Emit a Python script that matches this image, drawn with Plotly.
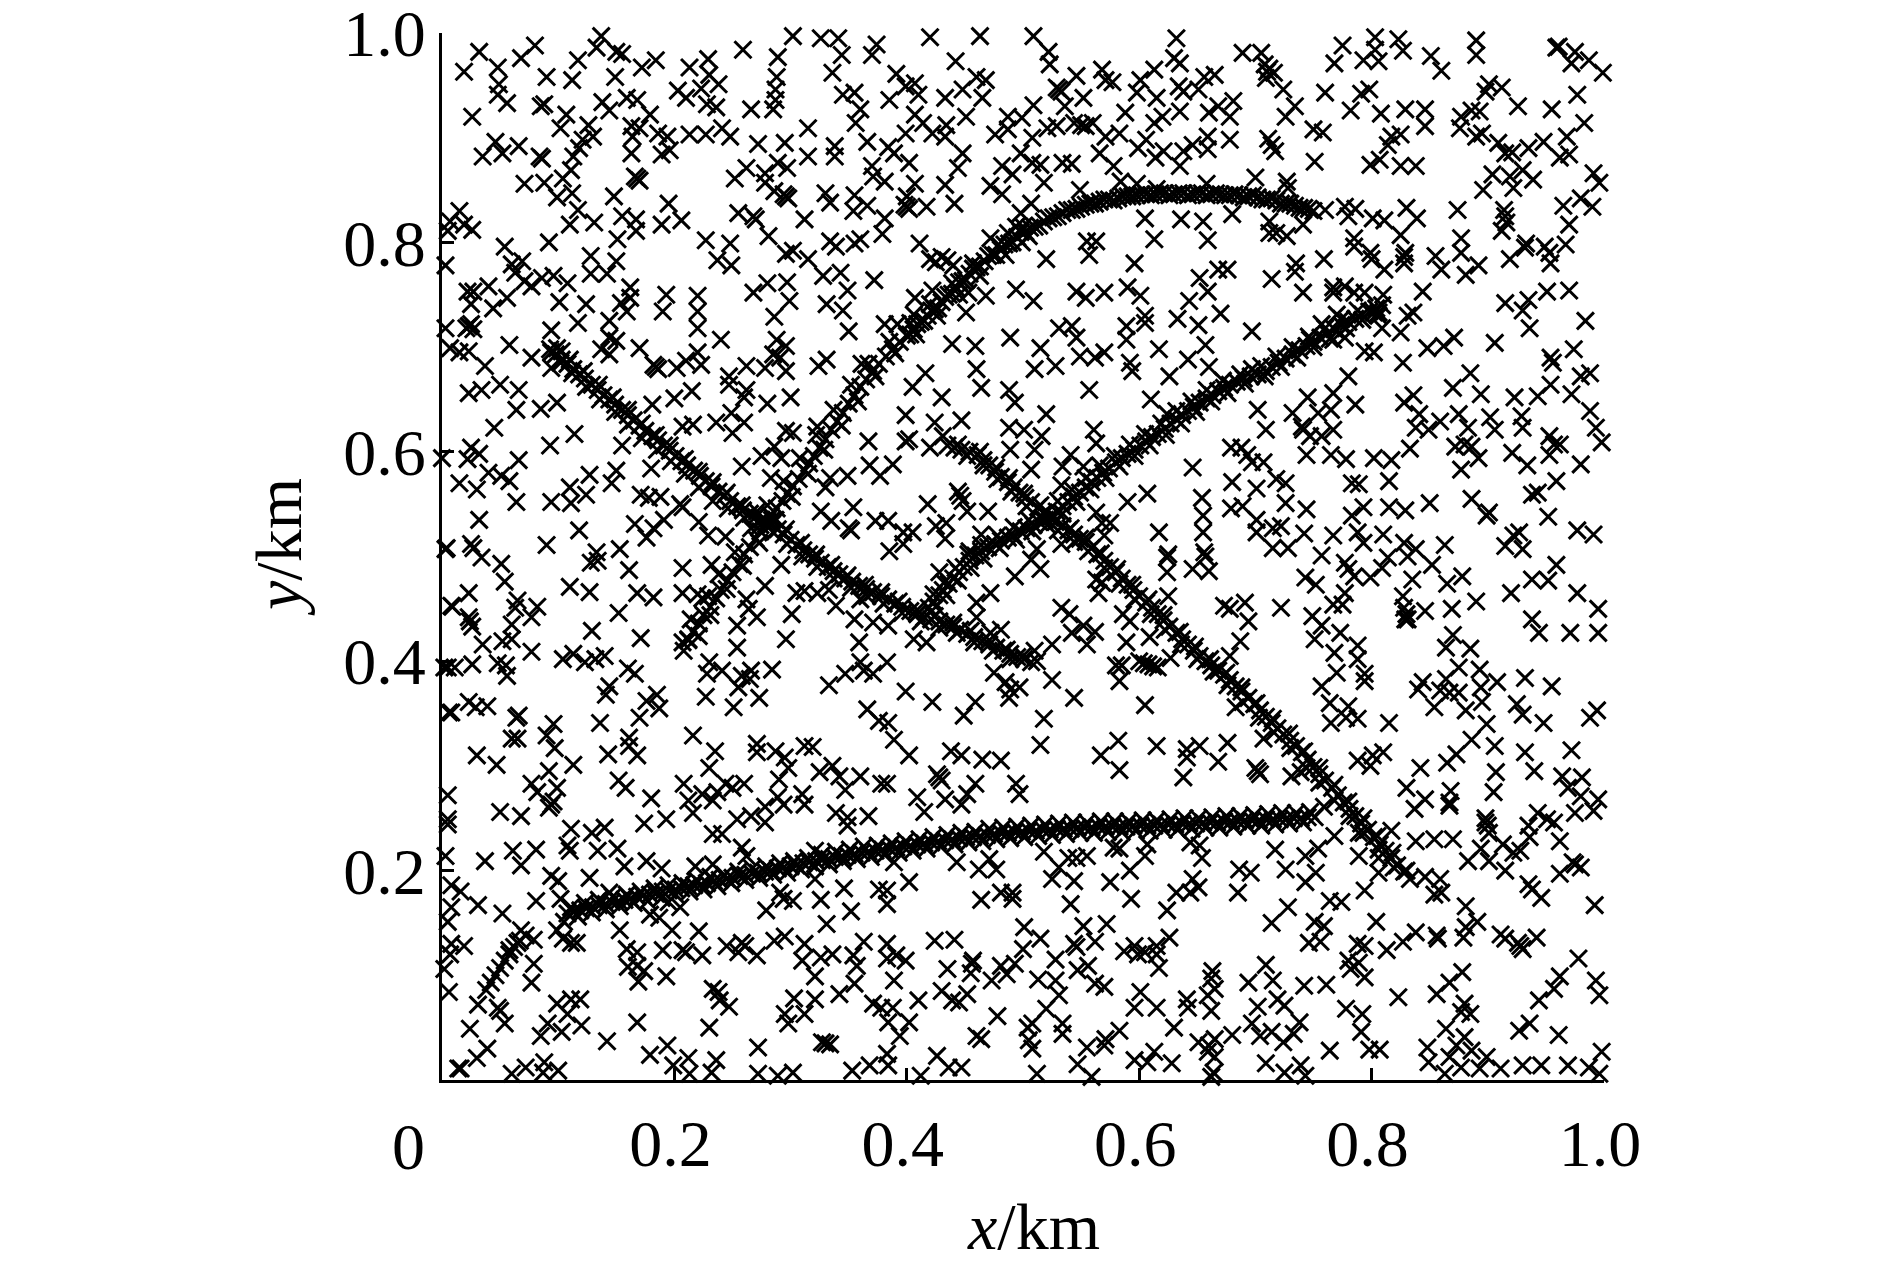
import plotly.graph_objects as go

x_tick_values = [0, 0.2, 0.4, 0.6, 0.8, 1.0]
x_tick_labels = ["", "0.2", "0.4", "0.6", "0.8", "1.0"]
y_tick_values = [0.2, 0.4, 0.6, 0.8, 1.0]
y_tick_labels = ["0.2", "0.4", "0.6", "0.8", "1.0"]

noise_upper_left = [
(.032,.982),(.080,.988),(.068,.976),(.019,.963),(.048,.967),(.049,.951),(.048,.941),(.056,.933),(.090,.958),(.112,.955),(.117,.974),(.133,.986),(.137,.997),(.150,.982),(.155,.980),(.149,.958),(.172,.967),(.184,.974),(.213,.967),(.229,.975),(.230,.960),(.238,.951),(.203,.945),(.210,.938),(.223,.947),(.228,.932),(.236,.929),(.259,.984),(.289,.977),(.288,.958),(.287,.946),(.285,.927),(.287,.936),(.302,.997),(.326,.995),(.341,.995),(.344,.979),(.336,.962),(.370,.979),(.374,.989),(.420,.996),(.463,.997),(.442,.973),
(.391,.961),(.399,.949),(.407,.952),(.410,.941),(.385,.936),(.345,.941),(.355,.943),(.360,.927),(.356,.914),(.266,.927),(.315,.909),(.272,.894),(.295,.895),(.315,.882),(.338,.892),(.338,.882),(.366,.896),(.384,.891),(.389,.885),(.402,.876),(.370,.873),(.371,.863),(.381,.858),(.407,.856),(.400,.844),(.433,.855),(.441,.837),(.417,.834),(.398,.836),(.402,.832),(.400,.834),(.444,.871),(.448,.885),(.451,.920),(.433,.938),(.448,.946),(.465,.938),(.460,.958),(.468,.955),(.407,.922),(.414,.914),(.399,.904),(.422,.904),(.433,.901),(.434,.912),(.476,.903),(.487,.920),(.487,.908),(.499,.919),(.482,.873),(.491,.865),(.498,.885),(.472,.854),(.482,.846),(.498,.828),(.472,.804),(.487,.809),(.494,.815),(.499,.800),
(.015,.830),(.007,.820),(.019,.817),(.026,.812),(.005,.811),(.003,.778),(.117,.831),(.110,.817),(.131,.819),(.155,.825),(.167,.822),(.167,.811),(.151,.803),(.189,.817),(.206,.821),(.195,.837),(.148,.844),(.099,.843),(.112,.847),(.104,.861),(.111,.869),(.088,.857),(.071,.856),(.035,.882),(.046,.896),(.052,.885),(.066,.892),(.084,.882),(.086,.880),(.026,.920),(.085,.930),(.088,.932),(.107,.922),(.102,.909),(.126,.912),(.130,.901),(.121,.898),(.118,.890),(.113,.882),(.138,.934),(.144,.926),(.159,.938),(.168,.936),(.179,.922),(.163,.911),(.170,.909),(.186,.904),(.163,.885),(.164,.901),(.189,.884),(.196,.888),(.194,.901),(.213,.903),(.227,.903),(.241,.909),(.248,.901),(.168,.861),(.166,.863),(.170,.859),
(.262,.871),(.252,.861),(.278,.866),(.278,.857),(.289,.876),(.297,.871),(.286,.849),(.296,.844),(.294,.846),(.298,.842),(.330,.847),(.334,.838),(.355,.845),(.354,.830),(.366,.835),(.381,.823),(.379,.808),(.312,.822),(.255,.828),(.270,.822),(.268,.825),(.281,.806),(.334,.801),(.339,.796),(.355,.799),(.360,.803),(.411,.799),(.227,.802),(.248,.799),(.237,.783),(.249,.778),(.296,.789),(.302,.792),(.315,.784),(.328,.768),(.343,.771),(.349,.754),(.372,.764),(.280,.761),(.297,.762),(.268,.752),(.299,.744),(.286,.729),(.331,.741),(.345,.735),(.350,.715),(.381,.722),(.392,.722),(.407,.747),(.422,.754),(.406,.731),
(.054,.796),(.092,.800),(.128,.787),(.150,.782),(.128,.770),(.142,.770),(.060,.779),(.069,.782),(.063,.771),(.077,.758),(.071,.763),(.096,.768),(.108,.761),(.086,.766),(.040,.758),(.022,.753),(.027,.753),(.025,.741),(.044,.737),(.056,.747),(.101,.743),(.124,.741),(.162,.757),(.162,.747),(.154,.742),(.159,.734),(.193,.750),(.190,.734),(.220,.749),(.220,.734),(.220,.718),(.117,.723),(.144,.725),(.094,.716),(.144,.709),(.150,.706),(.137,.698),(.144,.693),(.058,.702),(.170,.699),(.240,.707),(.288,.707),(.296,.701),(.285,.693),(.291,.690),(.220,.695),(.223,.683),(.210,.687),(.202,.680),(.184,.681),(.182,.683),(.186,.679),(.262,.682),(.331,.688),(.324,.682),(.247,.672),(.278,.680),(.296,.677),(.361,.684),(.416,.675),(.460,.679),(.439,.703),(.459,.701),(.489,.709),(.494,.755),(.451,.733),(.468,.749),(.453,.752),
(.023,.720),(.025,.722),(.021,.718),(.027,.717),(.003,.718),(.007,.699),(.015,.695),(.023,.696),(.037,.682),(.077,.690),(.094,.680),(.094,.695),(.103,.696),
(.420,.784),(.425,.781),(.430,.786),(.435,.783),(.440,.778),
]

noise_upper_right = [
(.509,.997),(.522,.982),(.523,.970),(.546,.959),(.529,.948),(.533,.944),(.531,.946),(.568,.965),(.571,.955),(.577,.953),(.536,.930),(.552,.938),(.509,.931),(.601,.955),(.598,.943),(.613,.965),(.615,.938),(.630,.976),(.635,.971),(.632,.995),(.634,.949),(.638,.944),(.635,.925),(.620,.920),(.613,.914),(.588,.924),(.656,.958),(.665,.960),(.651,.946),(.660,.924),(.668,.930),(.681,.935),(.678,.920),(.678,.898),(.659,.901),(.659,.889),(.646,.893),(.638,.887),(.635,.873),(.614,.881),(.621,.887),(.606,.898),(.599,.890),(.583,.904),(.571,.901),(.566,.885),(.578,.873),(.521,.909),(.529,.911),(.544,.914),(.550,.912),(.554,.911),(.560,.914),(.508,.900),(.508,.876),(.515,.874),(.534,.876),(.542,.875),(.518,.857),(.549,.850),(.507,.837),(.584,.858),(.598,.856),(.615,.851),(.658,.856),(.700,.862),(.727,.858),(.728,.852),
(.689,.981),(.705,.981),(.712,.966),(.708,.970),(.716,.962),(.710,.963),(.709,.957),(.724,.946),(.760,.943),(.734,.930),(.726,.920),(.750,.908),(.758,.905),(.714,.893),(.717,.887),(.711,.899),(.751,.877),(.775,.988),(.768,.971),(.793,.974),(.803,.996),(.803,.984),(.806,.973),(.823,.994),(.827,.983),(.851,.978),(.860,.964),(.890,.993),(.890,.979),(.961,.987),(.959,.986),(.975,.982),(.972,.971),(.987,.974),(.999,.962),
(.798,.946),(.791,.942),(.782,.926),(.808,.923),(.829,.927),(.846,.927),(.846,.911),(.825,.903),(.817,.901),(.814,.893),(.807,.879),(.799,.874),(.825,.873),(.838,.873),(.901,.951),(.898,.944),(.912,.948),(.893,.925),(.886,.926),(.877,.920),(.876,.909),(.890,.901),(.895,.904),(.926,.930),(.955,.927),(.977,.941),(.983,.914),(.968,.901),(.948,.896),(.909,.895),(.915,.885),(.921,.886),(.935,.890),(.962,.881),(.970,.884),(.904,.865),(.896,.850),(.919,.863),(.930,.869),(.922,.852),(.939,.860),(.991,.866),(.996,.857),(.965,.835),(.980,.842),(.990,.834),(.970,.817),(.874,.831),(.915,.825),(.914,.831),(.916,.819),(.912,.811),
(.760,.831),(.777,.834),(.786,.832),(.780,.825),(.801,.823),(.811,.821),(.830,.833),(.839,.823),(.825,.807),(.785,.804),(.785,.796),(.799,.790),(.800,.784),(.811,.774),(.829,.790),(.828,.786),(.828,.780),(.855,.787),(.860,.774),(.877,.804),(.877,.790),(.892,.778),(.881,.769),(.844,.753),(.836,.733),(.831,.730),(.825,.714),(.809,.718),(.802,.733),(.806,.730),(.848,.699),(.862,.701),(.871,.709),(.906,.704),(.827,.685),(.885,.675),(.919,.784),(.933,.799),(.932,.795),(.949,.796),(.953,.790),(.954,.780),(.967,.798),(.915,.742),(.935,.745),(.930,.735),(.951,.753),(.970,.754),(.984,.725),(.936,.718),(.974,.698),(.954,.690),(.956,.685),(.988,.675),(.980,.672),
(.520,.784),(.557,.788),(.555,.801),(.563,.801),(.596,.780),(.613,.803),(.636,.822),(.655,.820),(.659,.802),(.680,.827),(.605,.823),(.712,.820),(.712,.809),(.718,.809),(.727,.806),(.741,.817),(.735,.780),(.734,.772),(.759,.784),(.714,.765),(.741,.752),(.676,.774),(.668,.774),(.652,.766),(.659,.753),(.643,.744),(.670,.732),(.633,.727),(.651,.721),(.605,.730),(.605,.723),(.589,.720),(.589,.707),(.546,.753),(.554,.747),(.570,.752),(.590,.757),(.601,.749),(.509,.744),(.531,.718),(.542,.720),(.546,.709),(.515,.699),(.549,.691),(.562,.690),(.570,.695),(.617,.698),(.657,.702),(.642,.688),(.660,.681),(.592,.685),(.594,.677),(.528,.682),(.510,.679),(.697,.715),(.697,.679),(.626,.672),
(.767,.757),(.777,.758),(.785,.752),(.794,.752),(.810,.750),(.767,.752),(.770,.731),(.757,.722),(.767,.707),(.777,.709),(.747,.707),(.794,.696),(.802,.695),(.780,.672),
]

noise_middle_left = [
(.023,.656),(.034,.659),(.050,.664),(.066,.659),(.064,.640),(.085,.641),(.099,.647),(.045,.623),(.114,.617),(.093,.606),(.155,.606),(.025,.604),(.032,.598),(.022,.593),(.066,.592),(.040,.580),(.051,.577),(.058,.572),(.015,.570),(.030,.564),(.064,.552),(.094,.552),(.110,.566),(.111,.551),(.127,.578),(.124,.559),(.150,.582),(.146,.570),(.180,.584),(.171,.559),(.178,.556),(.188,.557),(.207,.547),(.205,.550),(.032,.535),(.118,.525),(.166,.531),(.176,.518),(.182,.527),(.191,.535),(.221,.533),(.229,.520),(.244,.519),(.004,.508),(.025,.512),(.027,.508),(.090,.511),(.034,.499),(.051,.493),(.133,.504),(.128,.494),(.134,.496),(.153,.507),(.161,.487),(.207,.489),(.232,.492),(.054,.476),(.110,.471),(.127,.466),(.023,.465),(.168,.465),(.182,.461),(.207,.465),(.220,.464),(.229,.462),(.065,.458),(.063,.451),(.082,.452),(.077,.442),(.008,.453),(.152,.446),(.024,.438),(.026,.433),(.023,.442),(.060,.435),(.129,.429),(.171,.422),(.052,.419),(.060,.421),(.035,.416),(.077,.409),(.104,.402),(.113,.407),(.123,.399),(.132,.402),(.140,.405),(.026,.397),(.011,.394),(.005,.394),(.048,.398),(.055,.396),(.056,.386),(.160,.393),(.166,.388),(.144,.376),(.141,.368),(.023,.361),(.029,.356),(.039,.357),(.006,.351),(.066,.348),(.064,.346),(.096,.340),(.136,.341),(.170,.346),(.176,.362),(.185,.368),(.187,.355),(.227,.366),(.251,.356),(.273,.365),(.255,.375),(.265,.383),(.258,.386),(.266,.391),(.284,.392),(.241,.391),(.228,.388),(.230,.399),(.207,.418),(.212,.421),(.208,.410),(.254,.413),(.254,.434),(.271,.442),(.296,.421),(.301,.445),(.262,.459),(.264,.450),(.278,.472),(.305,.465),(.312,.467),(.323,.465),(.333,.468),(.292,.492),(.339,.453),(.360,.459),(.355,.440),(.371,.437),(.384,.434),(.359,.418),(.360,.399),(.347,.388),(.363,.391),(.383,.399),(.371,.388),(.333,.377),(.399,.371),(.366,.354),(.422,.361),(.459,.361),(.449,.348),(.489,.373),(.497,.375),(.488,.365),(.485,.380),(.475,.389),(.376,.343),(.384,.341),(.406,.421),(.417,.418),(.460,.456),(.460,.442),(.481,.430),(.472,.427),
(.399,.635),(.424,.628),(.447,.630),(.367,.610),(.354,.547),(.326,.543),(.335,.534),(.350,.527),(.352,.525),(.373,.534),(.384,.534),(.418,.550),(.397,.523),(.405,.523),(.425,.529),(.434,.532),(.433,.517),(.385,.505),(.397,.512),(.452,.543),(.446,.558),(.444,.562),(.448,.553),(.470,.543),(.464,.521),(.454,.505),(.428,.485),(.493,.481),(.472,.465),(.368,.587),(.388,.588),(.377,.577),(.349,.577),(.334,.575),(.330,.566),(.399,.610),(.402,.612),(.420,.604),(.431,.615),(.489,.602),(.488,.623),(.501,.621),(.493,.647),(.488,.659),(.464,.661),(.430,.652),(.405,.662),(.181,.645),(.200,.651),(.215,.658),(.216,.626),(.207,.624),(.236,.628),(.249,.637),(.260,.628),(.250,.618),(.260,.652),(.262,.659),(.280,.646),(.300,.652),(.247,.664),(.296,.620),(.302,.618),(.323,.624),(.275,.596),(.292,.594),(.286,.605),(.258,.586),(.283,.575),
(.000,.594),(.003,.507),(.009,.452),(.002,.394),(.008,.351),
]

noise_middle_right = [
(.557,.659),(.610,.650),(.624,.636),(.520,.636),(.561,.621),(.563,.608),(.516,.615),(.510,.602),(.541,.597),(.534,.586),(.552,.586),(.507,.583),(.533,.568),(.646,.585),(.607,.560),(.590,.552),(.654,.556),(.679,.546),(.689,.548),(.655,.539),(.655,.523),(.617,.523),(.625,.502),(.624,.499),(.624,.485),(.656,.504),(.657,.500),(.646,.488),(.660,.486),(.680,.571),(.701,.565),(.718,.574),(.726,.570),(.726,.551),(.744,.545),(.679,.604),(.688,.604),(.693,.597),(.697,.590),(.707,.590),(.702,.640),(.709,.621),(.732,.637),(.745,.652),(.754,.637),(.767,.656),(.765,.640),(.767,.621),(.741,.621),(.740,.624),(.747,.615),(.757,.615),(.744,.597),(.765,.597),(.778,.593),(.786,.645),(.802,.594),(.817,.592),(.833,.603),(.828,.647),(.836,.654),(.841,.636),(.838,.623),(.849,.621),(.859,.629),(.875,.636),(.883,.623),(.872,.605),(.880,.607),(.886,.605),(.892,.594),(.877,.583),(.902,.633),(.906,.621),(.894,.655),(.870,.661),(.923,.652),(.929,.634),(.930,.623),(.943,.653),(.954,.664),(.972,.655),(.988,.639),(.993,.623),(.998,.609),(.953,.615),(.957,.607),(.962,.607),(.953,.597),(.921,.599),(.934,.587),(.980,.588),(.959,.572),(.943,.561),(.938,.559),(.886,.555),(.901,.542),(.899,.539),(.952,.538),(.977,.525),(.991,.521),(.927,.523),(.915,.510),(.922,.520),(.930,.507),(.959,.492),(.938,.478),(.952,.477),(.920,.465),(.977,.465),(.995,.450),(.938,.440),(.944,.427),(.971,.427),(.995,.427),
(.850,.551),(.815,.572),(.783,.570),(.789,.569),(.793,.547),(.783,.539),(.815,.547),(.829,.544),(.788,.523),(.793,.513),(.810,.521),(.828,.513),(.838,.507),(.863,.511),(.814,.499),(.831,.500),(.777,.494),(.780,.488),(.785,.481),(.799,.480),(.809,.489),(.852,.492),(.835,.478),(.865,.474),(.878,.481),(.767,.520),(.757,.501),(.742,.522),(.715,.527),(.722,.529),(.701,.535),(.701,.523),(.715,.508),(.728,.508),(.743,.480),(.752,.473),(.777,.465),(.767,.454),(.775,.454),(.749,.443),(.757,.434),(.751,.421),(.773,.427),(.788,.415),(.788,.402),(.768,.408),(.770,.389),(.794,.388),(.794,.381),(.757,.376),(.764,.360),(.780,.357),(.778,.346),(.788,.345),(.765,.341),(.827,.462),(.828,.451),(.830,.445),(.829,.440),(.831,.440),(.846,.448),(.869,.450),(.890,.457),(.870,.425),(.864,.413),(.885,.412),(.875,.394),(.893,.392),(.908,.380),(.894,.375),(.932,.384),(.955,.376),(.864,.383),(.844,.380),(.840,.373),(.859,.372),(.867,.370),(.875,.370),(.854,.356),(.881,.353),(.895,.361),(.925,.359),(.930,.349),(.988,.346),(.994,.353),(.948,.341),(.899,.340),(.815,.341),(.683,.356),(.687,.419),(.694,.438),(.691,.456),(.673,.453),(.678,.450),(.722,.451),(.678,.405),(.627,.403),(.625,.462),(.586,.445),(.592,.438),(.542,.427),(.533,.451),(.540,.445),(.552,.434),(.562,.428),(.555,.416),(.589,.418),(.609,.423),(.525,.416),(.510,.410),(.512,.400),(.580,.396),(.585,.396),(.583,.381),(.525,.382),(.544,.365),(.605,.358),(.518,.345),(.565,.465),(.563,.478),(.568,.475),(.515,.488),(.575,.532),(.568,.532),(.563,.542),(.570,.520),(.512,.507),(.533,.512),(.507,.497),
(.600,.400),(.604,.398),(.608,.397),(.612,.395),(.616,.394),
]

noise_lower_left = [
(.060,.326),(.065,.326),(.090,.329),(.097,.317),(.030,.310),(.047,.301),(.113,.301),(.092,.295),(.143,.311),(.161,.319),(.168,.310),(.161,.327),(.235,.314),(.216,.329),(.230,.298),(.271,.321),(.271,.313),(.287,.314),(.295,.308),(.312,.319),(.319,.318),(.298,.298),(.290,.287),(.325,.294),(.336,.300),(.342,.290),(.347,.277),(.360,.290),(.378,.283),(.383,.283),(.402,.310),(.389,.325),(.438,.314),(.447,.310),(.465,.306),(.481,.305),(.428,.289),(.426,.292),(.430,.286),(.459,.283),(.452,.273),(.433,.268),(.447,.263),(.409,.270),(.415,.256),(.494,.283),(.497,.273),(.077,.283),(.082,.275),(.099,.279),(.094,.263),(.092,.260),(.096,.266),(.050,.256),(.068,.252),(.005,.272),(.005,.249),(.005,.244),(.111,.240),(.129,.236),(.140,.241),(.174,.245),(.193,.249),(.180,.269),(.152,.286),(.158,.279),(.208,.283),(.212,.267),(.233,.267),(.216,.255),(.224,.273),(.237,.275),(.244,.283),(.250,.279),(.260,.283),(.289,.270),(.294,.263),(.310,.273),(.312,.263),(.278,.261),(.278,.246),(.254,.249),(.266,.252),(.339,.255),(.349,.251),(.349,.243),(.367,.252),(.233,.235),(.241,.235),(.258,.222),(.262,.214),(.321,.219),(.003,.214),(.037,.209),(.061,.219),(.081,.220),(.068,.205),(.108,.224),(.110,.219),(.134,.219),(.151,.221),(.157,.204),(.176,.209),(.189,.202),(.218,.204),(.233,.206),(.094,.195),(.100,.190),(.127,.193),(.144,.179),(.081,.171),(.102,.173),(.016,.180),(.008,.186),(.031,.167),(.052,.159),(.008,.165),(.005,.151),(.402,.189),(.389,.208),(.376,.182),(.383,.181),(.383,.168),(.346,.183),(.326,.172),(.321,.192),(.352,.161),(.291,.179),(.294,.173),(.302,.171),(.279,.162),(.331,.149),(.443,.208),(.462,.201),(.477,.201),(.471,.211),(.464,.172),(.481,.179),(.491,.179),(.491,.173),(.501,.146),
(.105,.151),(.099,.143),(.111,.131),(.116,.131),(.104,.135),(.068,.143),(.065,.131),(.079,.134),(.058,.124),(.079,.111),(.077,.093),(.008,.130),(.019,.128),(.007,.120),(.002,.106),(.006,.084),(.031,.072),(.048,.069),(.050,.066),(.054,.054),(.024,.049),(.039,.030),(.030,.021),(.016,.011),(.014,.011),(.060,.006),(.072,.012),(.088,.017),(.087,.007),(.100,.009),(.099,.073),(.111,.077),(.119,.077),(.108,.063),(.120,.052),(.091,.054),(.085,.042),(.103,.046),(.142,.037),(.153,.143),(.159,.125),(.168,.122),(.190,.124),(.160,.108),(.168,.109),(.174,.104),(.169,.094),(.193,.099),(.207,.124),(.210,.122),(.224,.119),(.221,.142),(.198,.143),(.187,.155),(.179,.158),(.205,.165),(.195,.170),(.168,.055),(.230,.050),(.194,.033),(.179,.024),(.212,.021),(.199,.014),(.213,.006),(.236,.019),(.232,.007),(.272,.031),(.272,.006),(.289,.004),(.302,.007),(.233,.087),(.238,.084),(.247,.070),(.239,.076),(.245,.128),(.255,.122),(.258,.131),(.261,.128),(.271,.119),(.286,.133),(.295,.137),(.312,.130),(.310,.114),(.336,.120),(.326,.117),(.354,.119),(.357,.109),(.363,.132),(.383,.130),(.383,.116),(.399,.114),(.391,.119),(.389,.095),(.424,.133),(.441,.134),(.457,.114),(.456,.111),(.435,.106),(.455,.102),(.473,.095),(.481,.109),(.493,.111),(.486,.101),(.500,.125),(.321,.099),(.342,.082),(.355,.092),(.430,.085),(.439,.076),(.445,.074),(.452,.082),(.410,.076),(.371,.073),(.378,.069),(.388,.069),(.384,.055),(.402,.055),(.394,.042),(.303,.078),(.321,.077),(.295,.063),(.312,.063),(.298,.054),(.327,.036),(.330,.035),(.334,.034),(.383,.025),(.368,.014),(.384,.014),(.353,.009),(.412,.004),(.426,.023),(.436,.012),(.447,.012),(.460,.042),(.464,.039),(.478,.061),(.504,.050),(.505,.038),
]

noise_lower_right = [
(.515,.320),(.582,.324),(.615,.319),(.567,.310),(.583,.296),(.641,.316),(.652,.319),(.641,.308),(.638,.289),(.668,.304),(.676,.322),(.707,.326),(.702,.295),(.700,.298),(.704,.292),(.731,.290),(.739,.294),(.788,.305),(.799,.300),(.810,.313),(.801,.310),(.842,.298),(.865,.303),(.873,.311),(.886,.325),(.906,.319),(.932,.313),(.972,.315),(.907,.294),(.905,.275),(.830,.279),(.846,.268),(.837,.259),(.868,.276),(.867,.262),(.867,.265),(.940,.295),(.964,.290),(.969,.279),(.981,.289),(.980,.271),(.995,.268),(.991,.257),(.975,.255),(.898,.246),(.898,.250),(.900,.243),(.901,.236),(.943,.255),(.935,.243),(.936,.232),(.957,.246),(.951,.249),(.962,.228),(.854,.230),(.870,.230),(.838,.228),(.883,.209),(.894,.221),(.901,.209),(.913,.225),(.922,.217),(.928,.219),(.915,.200),(.975,.206),(.973,.208),(.980,.203),(.962,.197),(.935,.187),(.938,.182),(.946,.174),(.992,.167),(.881,.166),(.859,.192),(.846,.194),(.860,.179),(.854,.177),(.891,.151),(.881,.146),(.879,.136),(.911,.139),(.915,.135),(.928,.128),(.930,.125),(.926,.131),(.942,.136),(.856,.138),(.857,.135),(.838,.141),(.827,.132),(.813,.124),(.804,.151),(.788,.130),(.794,.128),(.780,.114),(.789,.112),(.782,.106),(.794,.098),(.978,.116),(.878,.103),(.867,.093),(.856,.082),(.823,.079),(.962,.099),(.957,.087),(.944,.076),(.993,.095),(.996,.081),(.880,.073),(.877,.065),(.885,.063),(.864,.049),(.880,.041),(.873,.033),(.848,.031),(.849,.017),(.867,.022),(.877,.012),(.886,.028),(.899,.022),(.893,.011),(.911,.011),(.930,.014),(.946,.014),(.969,.014),(.987,.012),(.998,.027),(.996,.006),(.863,.006),(.927,.047),(.936,.054),(.961,.043),(.778,.068),(.792,.063),(.791,.046),(.798,.029),(.807,.029),(.764,.028),
(.794,.181),(.764,.171),(.774,.170),(.728,.165),(.714,.150),(.751,.151),(.759,.147),(.746,.131),(.756,.132),(.709,.110),(.715,.095),(.694,.093),(.742,.090),(.761,.091),(.719,.077),(.725,.071),(.702,.070),(.697,.054),(.738,.055),(.704,.042),(.714,.046),(.733,.044),(.724,.036),(.709,.016),(.725,.007),(.739,.014),(.743,.004),(.680,.043),(.662,.097),(.663,.104),(.665,.087),(.659,.081),(.662,.066),(.641,.077),(.642,.069),(.651,.036),(.660,.033),(.665,.039),(.659,.027),(.665,.022),(.664,.007),(.662,.003),(.630,.050),(.628,.016),(.613,.027),(.607,.017),(.596,.019),(.601,.084),(.596,.069),(.615,.069),(.583,.047),(.571,.039),(.570,.033),(.555,.031),(.547,.015),(.559,.003),(.512,.006),(.508,.054),(.508,.030),(.534,.054),(.534,.044),(.520,.068),(.531,.081),(.528,.095),(.513,.096),(.515,.135),(.544,.130),(.546,.127),(.552,.147),(.572,.149),(.562,.132),(.528,.115),(.547,.105),(.556,.109),(.562,.092),(.570,.089),(.587,.123),(.596,.128),(.599,.120),(.605,.122),(.615,.128),(.626,.136),(.615,.120),(.617,.107),(.541,.168),(.593,.173),(.624,.162),(.632,.179),(.644,.179),(.651,.184),(.646,.192),(.686,.201),(.696,.198),(.685,.179),(.726,.201),(.743,.214),(.754,.221),(.743,.189),(.752,.198),(.717,.220),(.644,.227),(.652,.224),(.654,.212),(.607,.225),(.605,.214),(.592,.200),(.575,.189),(.583,.221),(.578,.222),(.555,.214),(.539,.212),(.546,.212),(.518,.218),(.531,.203),(.525,.192),(.544,.190),(.806,.198),(.806,.212),(.789,.214),(.817,.238),(.768,.233),(.759,.261),(.789,.236),
]

track_rising_long = [
(.212,.420),(.216,.428),(.221,.436),(.225,.444),(.231,.452),(.236,.460),(.240,.468),(.246,.477),(.250,.485),(.256,.493),(.260,.502),(.265,.509),(.270,.517),(.274,.524),(.279,.531),(.283,.539),(.288,.546),(.293,.553),(.297,.560),(.302,.567),(.307,.574),(.312,.582),(.316,.589),(.320,.596),(.325,.604),(.330,.612),(.335,.621),(.340,.629),(.345,.637),(.350,.646),(.355,.654),(.360,.662),(.365,.669),(.371,.677),(.376,.684),(.382,.691),(.388,.698),(.394,.705),(.400,.711),(.406,.717),(.412,.724),(.418,.730),(.424,.736),(.430,.743),(.436,.750),(.442,.757),(.448,.763),(.454,.770),(.460,.776),(.467,.782),(.474,.788),(.481,.793),(.488,.799),(.495,.805),(.502,.810),(.510,.815),(.518,.820),(.526,.824),(.534,.828),(.542,.831),(.550,.834),(.558,.837),(.566,.839),(.574,.841),(.582,.842),(.590,.844),(.598,.845),(.606,.846),(.614,.846),(.622,.847),(.630,.846),(.638,.847),(.646,.846),(.654,.847),(.662,.846),(.670,.846),(.678,.845),(.686,.845),(.694,.844),(.702,.843),(.710,.841),(.718,.840),(.726,.837),(.734,.835),(.742,.833),(.750,.830),
(.506,.814),(.514,.816),(.522,.823),(.530,.825),(.538,.831),(.546,.832),(.554,.836),(.562,.837),(.570,.841),(.578,.840),(.586,.844),(.594,.844),(.602,.846),(.610,.845),(.618,.847),(.626,.845),(.634,.847),(.642,.845),(.650,.847),(.658,.845),(.666,.847),(.674,.845),(.682,.846),(.690,.843),(.698,.845),(.706,.841),(.714,.842),(.722,.837),(.730,.837),(.738,.833),(.746,.832),
(.403,.712),(.409,.722),(.415,.725),(.421,.735),(.427,.737),(.433,.748),(.439,.751),(.445,.762),(.451,.764),(.457,.775),(.463,.777),(.470,.787),(.477,.788),(.484,.798),(.491,.800),(.498,.810),
(.221,.424),(.214,.440),(.231,.444),(.224,.460),(.245,.469),(.238,.483),(.259,.491),(.252,.504),(.273,.513),(.266,.527),(.287,.535),(.280,.549),(.301,.557),(.294,.572),(.315,.579),(.308,.594),(.329,.602),(.322,.616),(.344,.625),(.337,.640),(.358,.648),(.352,.664),(.373,.672),(.367,.684),(.390,.694),(.385,.705),(.408,.712),(.403,.723),(.426,.730),(.420,.741),(.445,.750),(.439,.761),(.463,.768),(.457,.780),(.485,.788),(.479,.798),(.505,.806),(.500,.815),
]

track_rising_short = [
(.419,.451),(.423,.457),(.428,.463),(.431,.468),(.436,.474),(.440,.479),(.445,.485),(.449,.490),(.454,.496),(.459,.501),(.464,.505),(.470,.509),(.476,.512),(.481,.515),(.487,.518),(.492,.520),(.498,.524),(.503,.527),(.509,.530),(.514,.533),(.519,.535),(.524,.538),(.529,.543),(.534,.548),(.539,.552),(.544,.557),(.549,.561),(.554,.566),(.559,.571),(.564,.575),(.569,.580),(.574,.584),(.580,.590),(.585,.594),(.590,.598),(.596,.602),(.601,.606),(.606,.610),(.611,.614),(.616,.617),(.622,.622),(.627,.627),(.632,.631),(.637,.635),(.642,.639),(.647,.643),(.652,.647),(.658,.651),(.663,.654),(.668,.658),(.673,.661),(.678,.664),(.684,.667),(.690,.670),(.696,.672),(.702,.674),(.709,.677),(.714,.681),(.720,.685),(.726,.689),(.732,.693),(.738,.697),(.744,.701),(.750,.705),(.756,.709),(.762,.713),(.768,.717),(.774,.721),(.780,.724),(.786,.727),(.792,.731),(.798,.734),(.804,.737),(.809,.740),
(.425,.452),(.423,.464),(.434,.463),(.432,.475),(.444,.477),(.442,.489),(.455,.489),(.453,.502),(.466,.498),(.464,.511),(.480,.508),(.478,.520),(.494,.516),(.492,.528),(.508,.524),(.505,.535),(.521,.530),(.518,.541),(.534,.541),(.530,.553),(.546,.552),(.542,.564),(.558,.564),(.554,.575),(.571,.575),(.566,.587),(.583,.586),(.579,.596),(.596,.596),(.592,.607),(.609,.606),(.605,.617),(.623,.616),(.619,.627),(.636,.627),(.632,.639),(.649,.638),(.645,.648),(.662,.648),(.658,.659),(.676,.656),(.672,.668),(.691,.665),(.687,.674),(.708,.672),(.705,.682),(.722,.681),(.718,.691),(.736,.690),(.732,.700),(.750,.700),(.746,.710),(.764,.708),(.760,.718),(.778,.718),(.774,.727),(.792,.726),(.788,.735),(.806,.733),
]

track_falling_upper = [
(.093,.698),(.098,.693),(.103,.688),(.108,.684),(.113,.679),(.118,.674),(.123,.670),(.129,.664),(.134,.659),(.139,.654),(.144,.650),(.149,.645),(.155,.640),(.160,.635),(.165,.630),(.170,.625),(.175,.620),(.181,.615),(.186,.611),(.191,.606),(.196,.601),(.201,.596),(.206,.591),(.211,.587),(.217,.582),(.222,.577),(.227,.572),(.232,.567),(.238,.562),(.243,.558),(.248,.553),(.254,.548),(.259,.544),(.265,.541),(.270,.538),(.275,.535),(.280,.533),(.284,.531),(.289,.526),(.294,.521),(.300,.516),(.305,.511),(.311,.506),(.316,.502),(.321,.498),(.326,.494),(.332,.490),(.337,.486),(.342,.483),(.347,.479),(.353,.476),(.359,.472),(.365,.469),(.371,.466),(.378,.462),(.384,.459),(.390,.455),(.396,.452),(.403,.448),(.409,.445),(.415,.442),(.421,.440),(.428,.438),(.434,.435),(.440,.433),(.446,.430),(.452,.426),(.458,.423),(.465,.419),(.471,.416),(.477,.413),(.483,.410),(.489,.407),(.495,.404),(.501,.402),(.507,.399),
(.099,.699),(.102,.685),(.110,.688),(.112,.675),(.122,.677),(.124,.662),(.135,.664),(.136,.650),(.147,.652),(.149,.638),(.160,.640),(.160,.626),(.172,.627),(.172,.613),(.184,.616),(.185,.602),(.196,.606),(.197,.591),(.209,.593),(.209,.579),(.221,.581),(.221,.566),(.233,.571),(.233,.553),(.245,.561),(.246,.546),(.258,.549),(.260,.537),(.271,.543),(.274,.530),(.284,.535),(.285,.523),(.296,.526),(.297,.512),(.309,.513),(.310,.500),(.322,.502),(.323,.490),(.335,.492),(.337,.479),(.349,.482),(.352,.470),(.364,.473),(.366,.462),(.378,.466),(.380,.455),(.393,.457),(.396,.446),(.409,.449),(.412,.438),(.424,.443),(.428,.432),(.440,.437),(.443,.427),(.455,.429),(.458,.418),(.471,.420),(.474,.410),(.486,.411),(.489,.402),(.500,.405),
]

track_falling_lower = [
(.435,.606),(.441,.604),(.447,.602),(.454,.600),(.461,.597),(.466,.592),(.471,.587),(.476,.581),(.481,.576),(.487,.571),(.492,.566),(.497,.561),(.502,.556),(.507,.552),(.513,.547),(.518,.542),(.523,.537),(.528,.533),(.534,.529),(.539,.525),(.544,.521),(.549,.517),(.554,.514),(.559,.508),(.564,.502),(.570,.496),(.575,.490),(.580,.485),(.585,.479),(.590,.473),(.595,.468),(.600,.462),(.606,.456),(.611,.451),(.616,.445),(.621,.439),(.626,.433),(.632,.427),(.637,.421),(.642,.416),(.647,.410),(.652,.405),(.657,.400),(.662,.396),(.668,.391),(.673,.387),(.678,.382),(.683,.376),(.688,.371),(.694,.365),(.699,.359),(.704,.353),(.709,.347),(.714,.341),(.719,.336),(.724,.330),(.730,.324),(.735,.319),(.740,.313),(.745,.306),(.750,.299),(.755,.292),(.760,.286),(.766,.279),(.771,.272),(.776,.265),(.781,.259),(.786,.252),(.791,.245),(.797,.239),(.802,.232),(.807,.225),(.812,.219),(.817,.212),(.822,.205),(.828,.199),(.833,.192),
(.444,.607),(.452,.596),(.463,.600),(.466,.587),(.477,.585),(.478,.574),(.488,.575),(.490,.562),(.501,.560),(.503,.548),(.515,.549),(.517,.535),(.527,.538),(.530,.525),(.541,.527),(.544,.514),(.554,.518),(.556,.505),(.567,.503),(.570,.489),(.581,.488),(.583,.474),(.594,.473),(.596,.459),(.608,.459),(.610,.445),(.621,.444),(.622,.430),(.635,.428),(.636,.416),(.648,.414),(.650,.402),(.661,.402),(.664,.390),(.675,.389),(.676,.377),(.688,.375),(.689,.361),(.701,.360),(.703,.346),(.715,.345),(.716,.332),(.729,.331),(.730,.317),(.742,.314),(.744,.298),(.755,.298),(.755,.284),(.768,.282),(.768,.267),(.780,.266),(.781,.252),(.793,.250),(.793,.236),(.805,.233),(.806,.220),(.818,.217),(.819,.203),(.830,.200),
]

track_flat = [
(.108,.159),(.113,.161),(.119,.162),(.124,.164),(.130,.165),(.135,.167),(.141,.168),(.146,.170),(.152,.171),(.157,.172),(.162,.173),(.168,.175),(.173,.176),(.179,.177),(.184,.178),(.190,.180),(.195,.181),(.201,.182),(.206,.183),(.212,.185),(.217,.186),(.223,.187),(.228,.188),(.234,.190),(.239,.191),(.245,.192),(.250,.193),(.256,.195),(.261,.196),(.267,.197),(.272,.198),(.278,.199),(.283,.200),(.289,.202),(.294,.203),(.300,.204),(.305,.205),(.311,.207),(.316,.208),(.322,.209),(.327,.210),(.333,.211),(.338,.213),(.344,.214),(.349,.215),(.355,.216),(.361,.217),(.367,.218),(.373,.219),(.379,.220),(.385,.221),(.391,.222),(.397,.223),(.403,.224),(.409,.225),(.415,.226),(.421,.227),(.427,.228),(.433,.229),(.439,.230),(.445,.231),(.451,.232),(.457,.232),(.463,.233),(.469,.234),(.475,.235),(.481,.236),(.487,.236),(.493,.237),(.499,.237),(.505,.238),(.511,.238),(.517,.239),(.523,.239),(.529,.240),(.535,.240),(.541,.240),(.547,.241),(.553,.241),(.559,.241),(.565,.242),(.571,.242),(.577,.242),(.583,.242),(.589,.242),(.595,.243),(.601,.243),(.607,.243),(.613,.243),(.619,.244),(.625,.244),(.631,.244),(.637,.245),(.643,.245),(.649,.245),(.655,.246),(.661,.246),(.667,.246),(.673,.247),(.679,.247),(.685,.247),(.691,.248),(.697,.248),(.703,.248),(.709,.249),(.715,.249),(.721,.249),(.727,.250),(.733,.250),(.739,.250),(.745,.251),(.751,.251),
(.111,.165),(.117,.156),(.123,.169),(.129,.160),(.135,.172),(.141,.163),(.147,.175),(.153,.166),(.159,.177),(.165,.169),(.171,.180),(.177,.171),(.183,.183),(.189,.174),(.195,.186),(.201,.177),(.207,.188),(.213,.180),(.219,.191),(.225,.182),(.231,.194),(.237,.185),(.243,.196),(.249,.188),(.255,.199),(.261,.191),(.267,.202),(.273,.193),(.279,.204),(.285,.196),(.291,.207),(.297,.198),(.303,.209),(.309,.201),(.315,.212),(.321,.204),(.327,.215),(.333,.206),(.339,.218),(.345,.209),(.351,.220),(.357,.211),(.363,.223),(.369,.213),(.375,.224),(.381,.215),(.387,.226),(.393,.217),(.399,.228),(.405,.219),(.411,.230),(.417,.221),(.423,.232),(.429,.223),(.435,.234),(.441,.225),(.447,.236),(.453,.227),(.459,.237),(.465,.228),(.471,.240),(.477,.230),(.483,.241),(.489,.231),(.495,.242),(.501,.232),(.507,.243),(.513,.233),(.519,.244),(.525,.234),(.531,.245),(.537,.235),(.543,.246),(.549,.236),(.555,.246),(.561,.236),(.567,.247),(.573,.237),(.579,.247),(.585,.237),(.591,.247),(.597,.238),(.603,.248),(.609,.238),(.615,.248),(.621,.239),(.627,.249),(.633,.239),(.639,.250),(.645,.240),(.651,.250),(.657,.241),(.663,.251),(.669,.241),(.675,.252),(.681,.242),(.687,.252),(.693,.243),(.699,.253),(.705,.243),(.711,.254),(.717,.244),(.723,.255),(.729,.245),(.735,.255),(.741,.246),(.747,.256),
]

track_corner = [
(.038,.086),(.042,.093),(.046,.100),(.050,.107),(.054,.114),(.058,.120),(.062,.127),(.067,.133),(.072,.138),
]

series = [noise_upper_left, noise_upper_right, noise_middle_left, noise_middle_right,
          noise_lower_left, noise_lower_right, track_rising_long, track_rising_short,
          track_falling_upper, track_falling_lower, track_flat, track_corner]

fig = go.Figure()
for pts in series:
    fig.add_trace(go.Scatter(
        x=[p[0] for p in pts], y=[p[1] for p in pts], mode="markers", showlegend=False,
        cliponaxis=False, hoverinfo="skip",
        marker=dict(symbol="x-thin", size=17, color="black", line=dict(width=3, color="black")),
    ))

FONT = "Liberation Serif"
axis_style = dict(showgrid=False, zeroline=False, showline=True, linecolor="black", linewidth=3,
                  ticks="inside", ticklen=12, tickwidth=2.5, tickcolor="black",
                  ticklabeloverflow="allow", automargin=False,
                  tickfont=dict(family=FONT, size=66, color="black"), range=[0, 1], layer="above traces")
fig.update_xaxes(tickmode="array", tickvals=x_tick_values, ticktext=x_tick_labels,
                 ticklabelshift=-4, ticklabelstandoff=4, **axis_style)
fig.update_yaxes(tickmode="array", tickvals=y_tick_values, ticktext=y_tick_labels, **axis_style)

fig.update_layout(
    width=1890, height=1268, autosize=False, paper_bgcolor="white", plot_bgcolor="white",
    margin=dict(l=442, r=286, t=33, b=188, autoexpand=False),
    annotations=[
        dict(text="0", xref="paper", yref="paper", x=(408 - 442) / 1162, y=(1080 - 1146) / 1047,
             showarrow=False, xanchor="center", yanchor="middle", font=dict(family=FONT, size=66, color="black")),
        dict(text="<i>x</i>/km", xref="paper", yref="paper", x=(1033 - 442) / 1162, y=(1080 - 1226) / 1047,
             showarrow=False, xanchor="center", yanchor="middle", font=dict(family=FONT, size=66, color="black")),
        dict(text="<i>y</i>/km", xref="paper", yref="paper", x=(278 - 442) / 1162, y=(1080 - 547) / 1047,
             textangle=-90, showarrow=False, xanchor="center", yanchor="middle", font=dict(family=FONT, size=66, color="black")),
    ],
)

fig.write_html("out.html", config={"displayModeBar": False},
               post_script="document.body.style.margin='0';document.body.style.overflow='hidden';")
